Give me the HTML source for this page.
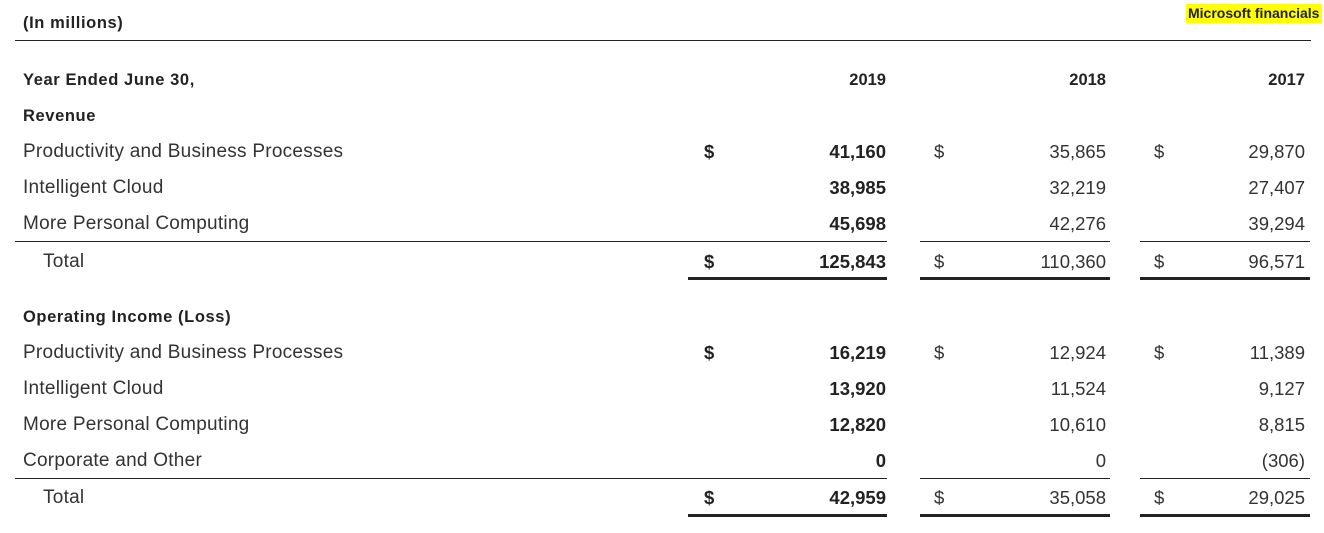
<!DOCTYPE html>
<html><head><meta charset="utf-8"><style>
body{margin:0;width:1324px;height:533px;background:#fff;position:relative;font-family:"Liberation Sans",Arial,sans-serif;color:#333;overflow:hidden}
.t{position:absolute;font-size:18.5px;line-height:20px;white-space:nowrap;transform:translateY(-50%)}
.lb{font-size:19px;letter-spacing:0.25px}
.b{font-weight:bold;color:#222}
.h{font-size:16.5px}
.hl{letter-spacing:0.6px}
.r{text-align:right;width:200px}
.l{position:absolute;background:#222;height:1px}
.d{height:2.5px}
</style></head><body>
<div style="position:absolute;left:1186px;top:4px;width:136px;height:19px;background:#ffff00"></div>
<div class="t b" style="left:1188px;top:13px;font-size:14px">Microsoft financials</div>
<div class="t b h hl" style="left:23px;top:23px">(In millions)</div>
<div class="l" style="left:15px;top:40px;width:1296px"></div>
<div class="t b h hl" style="left:23px;top:80px">Year Ended June 30,</div>
<div class="t b h r" style="left:686px;top:80px">2019</div>
<div class="t b h r" style="left:906px;top:80px">2018</div>
<div class="t b h r" style="left:1105px;top:80px">2017</div>
<div class="t b h hl" style="left:23px;top:116px">Revenue</div>

<div class="t lb" style="left:23px;top:152px">Productivity and Business Processes</div>
<div class="t lb" style="left:23px;top:188px">Intelligent Cloud</div>
<div class="t lb" style="left:23px;top:224px">More Personal Computing</div>
<div class="t lb" style="left:43px;top:262px">Total</div>

<div class="t b" style="left:704px;top:152px">$</div>
<div class="t" style="left:934px;top:152px">$</div>
<div class="t" style="left:1154px;top:152px">$</div>
<div class="t b r" style="left:686px;top:152px">41,160</div>
<div class="t r" style="left:906px;top:152px">35,865</div>
<div class="t r" style="left:1105px;top:152px">29,870</div>
<div class="t b r" style="left:686px;top:188px">38,985</div>
<div class="t r" style="left:906px;top:188px">32,219</div>
<div class="t r" style="left:1105px;top:188px">27,407</div>
<div class="t b r" style="left:686px;top:224px">45,698</div>
<div class="t r" style="left:906px;top:224px">42,276</div>
<div class="t r" style="left:1105px;top:224px">39,294</div>
<div class="l" style="left:15px;top:241px;width:872px"></div>
<div class="l" style="left:920px;top:241px;width:190px"></div>
<div class="l" style="left:1140px;top:241px;width:170px"></div>
<div class="t b" style="left:704px;top:262px">$</div>
<div class="t" style="left:934px;top:262px">$</div>
<div class="t" style="left:1154px;top:262px">$</div>
<div class="t b r" style="left:686px;top:262px">125,843</div>
<div class="t r" style="left:906px;top:262px">110,360</div>
<div class="t r" style="left:1105px;top:262px">96,571</div>
<div class="l d" style="left:688px;top:277px;width:199px"></div>
<div class="l d" style="left:920px;top:277px;width:190px"></div>
<div class="l d" style="left:1140px;top:277px;width:170px"></div>

<div class="t b h hl" style="left:23px;top:317px">Operating Income (Loss)</div>
<div class="t lb" style="left:23px;top:353px">Productivity and Business Processes</div>
<div class="t lb" style="left:23px;top:389px">Intelligent Cloud</div>
<div class="t lb" style="left:23px;top:425px">More Personal Computing</div>
<div class="t lb" style="left:23px;top:461px">Corporate and Other</div>
<div class="t lb" style="left:43px;top:498px">Total</div>

<div class="t b" style="left:704px;top:353px">$</div>
<div class="t" style="left:934px;top:353px">$</div>
<div class="t" style="left:1154px;top:353px">$</div>
<div class="t b r" style="left:686px;top:353px">16,219</div>
<div class="t r" style="left:906px;top:353px">12,924</div>
<div class="t r" style="left:1105px;top:353px">11,389</div>
<div class="t b r" style="left:686px;top:389px">13,920</div>
<div class="t r" style="left:906px;top:389px">11,524</div>
<div class="t r" style="left:1105px;top:389px">9,127</div>
<div class="t b r" style="left:686px;top:425px">12,820</div>
<div class="t r" style="left:906px;top:425px">10,610</div>
<div class="t r" style="left:1105px;top:425px">8,815</div>
<div class="t b r" style="left:686px;top:461px">0</div>
<div class="t r" style="left:906px;top:461px">0</div>
<div class="t r" style="left:1105px;top:461px">(306)</div>
<div class="l" style="left:15px;top:478px;width:872px"></div>
<div class="l" style="left:920px;top:478px;width:190px"></div>
<div class="l" style="left:1140px;top:478px;width:170px"></div>
<div class="t b" style="left:704px;top:498px">$</div>
<div class="t" style="left:934px;top:498px">$</div>
<div class="t" style="left:1154px;top:498px">$</div>
<div class="t b r" style="left:686px;top:498px">42,959</div>
<div class="t r" style="left:906px;top:498px">35,058</div>
<div class="t r" style="left:1105px;top:498px">29,025</div>
<div class="l d" style="left:688px;top:514px;width:199px"></div>
<div class="l d" style="left:920px;top:514px;width:190px"></div>
<div class="l d" style="left:1140px;top:514px;width:170px"></div>
</body></html>
